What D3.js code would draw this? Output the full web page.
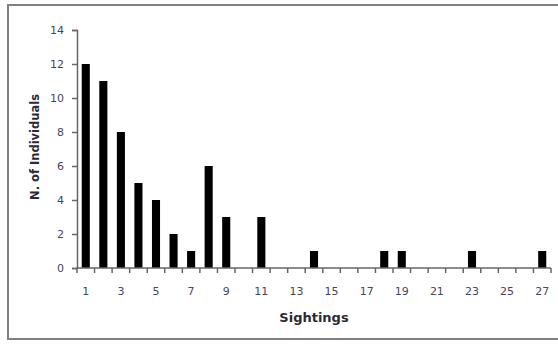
<!DOCTYPE html>
<meta charset="utf-8">
<script src="https://d3js.org/d3.v7.min.js"></script>
<style>
  body { margin: 0; background: #fff; }
  text { font-family: "DejaVu Sans", Verdana, sans-serif; }
</style>
<div id="my_dataviz"></div>
<script>

// data
var sightings = d3.range(1, 28);
var individuals = [12, 11, 8, 5, 4, 2, 1, 6, 3, 0, 3, 0, 0, 1, 0, 0, 0, 1, 1, 0, 0, 0, 1, 0, 0, 0, 1];
var yTicks = [0, 2, 4, 6, 8, 10, 12, 14];

var W = 558, H = 345;
var margin = {top: 30, right: 7, bottom: 77, left: 77},
    width = W - margin.left - margin.right,
    height = H - margin.top - margin.bottom;

var root = d3.select("#my_dataviz")
  .append("svg")
    .attr("width", W)
    .attr("height", H);

// outer frame (runs off the right edge in the original)
root.append("rect")
    .attr("x", 8).attr("y", 5)
    .attr("width", 560).attr("height", 334)
    .attr("fill", "none")
    .attr("stroke", "#808080")
    .attr("stroke-width", 2);

var svg = root.append("g")
    .attr("transform", "translate(" + margin.left + "," + margin.top + ")");

var x = d3.scaleBand()
    .domain(sightings)
    .range([0, width])
    .paddingInner(0.54)
    .paddingOuter(0.27);

var y = d3.scaleLinear()
    .domain([0, 14])
    .range([height, 0]);

// bars
svg.selectAll("rect.bar")
  .data(sightings)
  .enter().append("rect")
    .attr("class", "bar")
    .attr("x", function(d) { return x(d); })
    .attr("y", function(d, i) { return y(individuals[i]); })
    .attr("width", x.bandwidth())
    .attr("height", function(d, i) { return height - y(individuals[i]); })
    .attr("fill", "#000");

// Y axis
var yAxis = svg.append("g")
  .call(d3.axisLeft(y).tickValues(yTicks).tickSize(5).tickSizeOuter(5).tickPadding(8));
yAxis.select(".domain").attr("stroke", "#666").attr("stroke-width", 1.5);
yAxis.selectAll(".tick line").attr("stroke", "#666").attr("stroke-width", 1.5);
yAxis.selectAll(".tick text")
  .attr("fill", "#46465e")
  .style("font-family", "'DejaVu Sans', sans-serif")
  .style("font-size", "11px");

// X axis: ticks between categories, labels on odd ones
var step = x.step();
var xAxisG = svg.append("g")
  .attr("transform", "translate(0," + height + ")");
xAxisG.append("line")
  .attr("x1", 0).attr("x2", width)
  .attr("y1", 0).attr("y2", 0)
  .attr("stroke", "#666").attr("stroke-width", 1.5);
var bounds = d3.range(0, sightings.length + 1).map(function(i) { return i * step; });
xAxisG.selectAll("line.tk")
  .data(bounds)
  .enter().append("line")
    .attr("class", "tk")
    .attr("x1", function(d) { return d; }).attr("x2", function(d) { return d; })
    .attr("y1", 0).attr("y2", 5)
    .attr("stroke", "#666").attr("stroke-width", 1.5);
xAxisG.selectAll("text")
  .data(sightings.filter(function(d) { return d % 2 === 1; }))
  .enter().append("text")
    .attr("x", function(d) { return x(d) + x.bandwidth() / 2; })
    .attr("y", 27)
    .attr("text-anchor", "middle")
    .attr("fill", "#46465e")
    .style("font-size", "11px")
    .text(function(d) { return d; });

// axis titles
svg.append("text")
    .attr("x", width / 2)
    .attr("y", height + 54)
    .attr("text-anchor", "middle")
    .style("font-size", "13px")
    .style("font-weight", "bold")
    .attr("fill", "#2a2a3a")
    .text("Sightings");

svg.append("text")
    .attr("transform", "rotate(-90)")
    .attr("x", -height / 2 + 2)
    .attr("y", -38)
    .attr("text-anchor", "middle")
    .style("font-size", "11.5px")
    .style("font-weight", "bold")
    .attr("fill", "#2a2a3a")
    .text("N. of Individuals");

</script>
